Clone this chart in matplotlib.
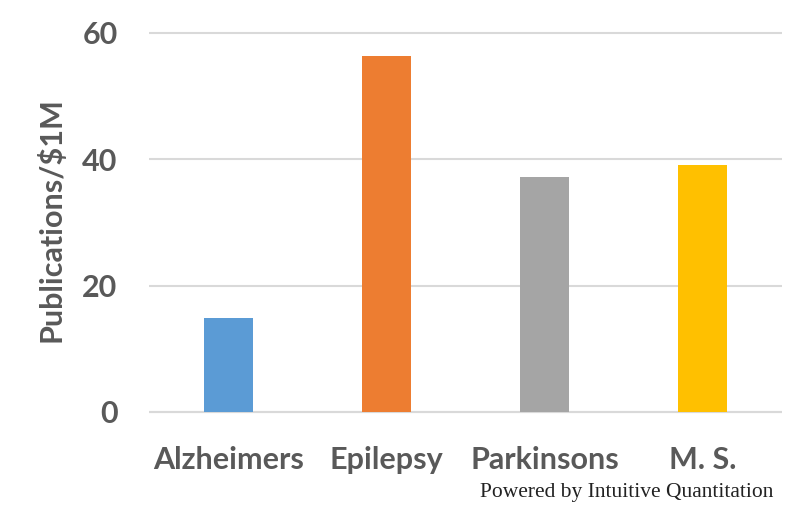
import matplotlib
matplotlib.use("Agg")
import matplotlib.pyplot as plt

# values
diseases = ["Alzheimers", "Epilepsy", "Parkinsons", "M. S."]
pubs_per_million = [14.8, 56.3, 37.1, 39.0]
bar_colors = ["#5B9BD5", "#ED7D31", "#A5A5A5", "#FFC000"]
yticks = [0, 20, 40, 60]

txt = "#595959"
plt.rcParams['font.family'] = ['Lato', 'DejaVu Sans']

fig = plt.figure(figsize=(8.12, 5.17), dpi=100)
ax = fig.add_axes([0.1841, 0.1909, 0.7786, 0.7703])

x = range(len(diseases))
ax.bar(x, pubs_per_million, width=0.31, color=bar_colors, zorder=3)

ax.set_xlim(-0.5, len(diseases) - 0.5)
ax.set_ylim(-1, 62)
ax.set_yticks(yticks)
ax.set_xticks(list(x))
ax.set_xticklabels(diseases)
ax.grid(axis='y', color="#D9D9D9", linewidth=1.5, zorder=0)
ax.axhline(0, color="#D9D9D9", linewidth=1.5, zorder=1)

for s in ax.spines.values():
    s.set_visible(False)
ax.tick_params(axis='both', length=0, labelsize=22, labelcolor=txt)
ax.tick_params(axis='y', pad=23)
ax.tick_params(axis='x', pad=20)
for lbl in ax.get_xticklabels() + ax.get_yticklabels():
    lbl.set_fontweight('bold')

ax.set_ylabel("Publications/$1M", fontsize=22, fontweight='bold', color=txt, labelpad=12)

fig.text(0.953, 0.048, "Powered by Intuitive Quantitation", ha='right', va='center',
         fontsize=15.5, family='Liberation Serif', color="#222222")

fig.savefig("out.png", dpi=100)
